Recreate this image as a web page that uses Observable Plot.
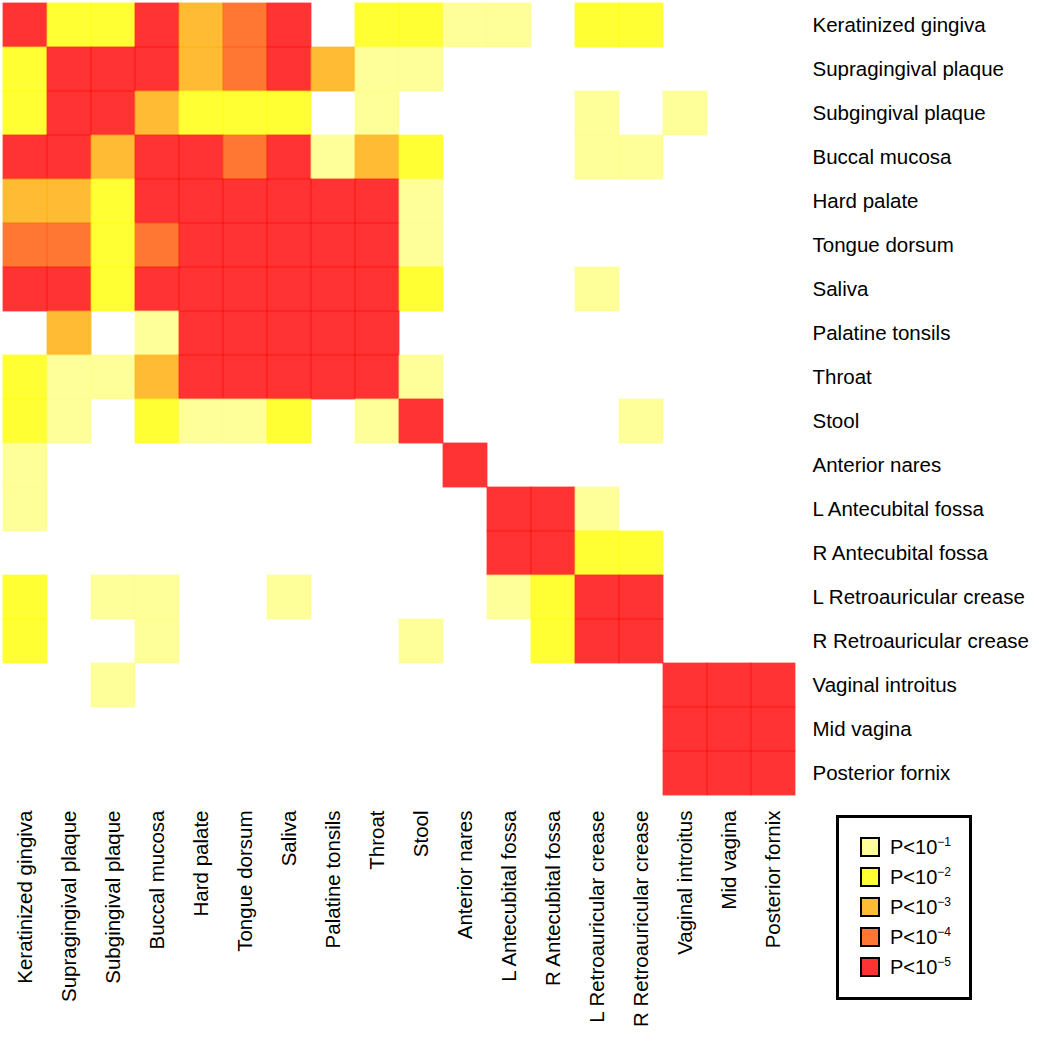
<!DOCTYPE html>
<html>
<head>
<meta charset="utf-8">
<script src="https://cdn.jsdelivr.net/npm/d3@7"></script>
<script src="https://cdn.jsdelivr.net/npm/@observablehq/plot@0.6"></script>
<style>
  body { margin: 0; background: #fff; }
  #wrap { position: relative; width: 1050px; height: 1050px; font-family: "Liberation Sans", Arial, Helvetica, sans-serif; }
  #legend { position: absolute; left: 836px; top: 815px; width: 130px; height: 179px; border: 3px solid #000; background: #fff; }
  .item { position: absolute; left: 21px; height: 20px; display: flex; align-items: center; font-size: 20px; color: #000; }
  .sw { width: 16px; height: 16px; border: 2px solid #000; margin-right: 10px; box-sizing: content-box; }
  sup { font-size: 12px; vertical-align: 8px; line-height: 0; }
</style>
</head>
<body>
<div id="wrap"></div>
<script>
const sites = ["Keratinized gingiva","Supragingival plaque","Subgingival plaque","Buccal mucosa","Hard palate","Tongue dorsum","Saliva","Palatine tonsils","Throat","Stool","Anterior nares","L Antecubital fossa","R Antecubital fossa","L Retroauricular crease","R Retroauricular crease","Vaginal introitus","Mid vagina","Posterior fornix"];

// significance level per cell: 0 = none, 1..5 = P<10^-1 .. P<10^-5 (rows top to bottom, columns left to right)
const levels = [
  [5,2,2,5,3,4,5,0,2,2,1,1,0,2,2,0,0,0],
  [2,5,5,5,3,4,5,3,1,1,0,0,0,0,0,0,0,0],
  [2,5,5,3,2,2,2,0,1,0,0,0,0,1,0,1,0,0],
  [5,5,3,5,5,4,5,1,3,2,0,0,0,1,1,0,0,0],
  [3,3,2,5,5,5,5,5,5,1,0,0,0,0,0,0,0,0],
  [4,4,2,4,5,5,5,5,5,1,0,0,0,0,0,0,0,0],
  [5,5,2,5,5,5,5,5,5,2,0,0,0,1,0,0,0,0],
  [0,3,0,1,5,5,5,5,5,0,0,0,0,0,0,0,0,0],
  [2,1,1,3,5,5,5,5,5,1,0,0,0,0,0,0,0,0],
  [2,1,0,2,1,1,2,0,1,5,0,0,0,0,1,0,0,0],
  [1,0,0,0,0,0,0,0,0,0,5,0,0,0,0,0,0,0],
  [1,0,0,0,0,0,0,0,0,0,0,5,5,1,0,0,0,0],
  [0,0,0,0,0,0,0,0,0,0,0,5,5,2,2,0,0,0],
  [2,0,1,1,0,0,1,0,0,0,0,1,2,5,5,0,0,0],
  [2,0,0,1,0,0,0,0,0,1,0,0,2,5,5,0,0,0],
  [0,0,1,0,0,0,0,0,0,0,0,0,0,0,0,5,5,5],
  [0,0,0,0,0,0,0,0,0,0,0,0,0,0,0,5,5,5],
  [0,0,0,0,0,0,0,0,0,0,0,0,0,0,0,5,5,5]
];

const levelKeys = [1,2,3,4,5];
const levelLabels = ["1","2","3","4","5"];
const heatColors = ["#FFFF80","#FFFF00","#FFAA00","#FF5500","#FF0000"];

const cells = [];
levels.forEach((row, i) => row.forEach((v, j) => {
  if (v > 0) cells.push({row: sites[i], col: sites[j], level: v});
}));

const chart = Plot.plot({
  width: 1050,
  height: 1050,
  marginLeft: 0,
  marginTop: 0,
  marginRight: 253,
  marginBottom: 253,
  style: {fontFamily: '"Liberation Sans", Arial, Helvetica, sans-serif', fontSize: "20.5px", color: "#000", background: "#fff"},
  x: {type: "band", domain: sites, padding: 0, label: null},
  y: {type: "band", domain: sites, padding: 0, label: null},
  color: {type: "ordinal", domain: levelKeys, range: heatColors},
  marks: [
    Plot.cell(cells, {x: "col", y: "row", fill: "level", fillOpacity: 0.8, inset: -0.4}),
    Plot.axisY({anchor: "right", tickSize: 0, tickPadding: 15, fontSize: 20.5, label: null}),
    Plot.axisX({anchor: "bottom", tickSize: 0, tickPadding: 13, tickRotate: -90, fontSize: 20.5, label: null})
  ]
});

const wrap = document.getElementById("wrap");
wrap.appendChild(chart);

const legend = document.createElement("div");
legend.id = "legend";
levelKeys.forEach((k, i) => {
  const item = document.createElement("div");
  item.className = "item";
  item.style.top = (19 + i * 30) + "px";
  const sw = document.createElement("div");
  sw.className = "sw";
  sw.style.background = heatColors[i];
  sw.style.opacity = "1";
  sw.style.backgroundColor = d3.interpolateRgb("#ffffff", heatColors[i])(0.8);
  const txt = document.createElement("span");
  txt.innerHTML = "P&lt;10<sup>\u2212" + levelLabels[i] + "</sup>";
  item.appendChild(sw);
  item.appendChild(txt);
  legend.appendChild(item);
});
wrap.appendChild(legend);
</script>
</body>
</html>
